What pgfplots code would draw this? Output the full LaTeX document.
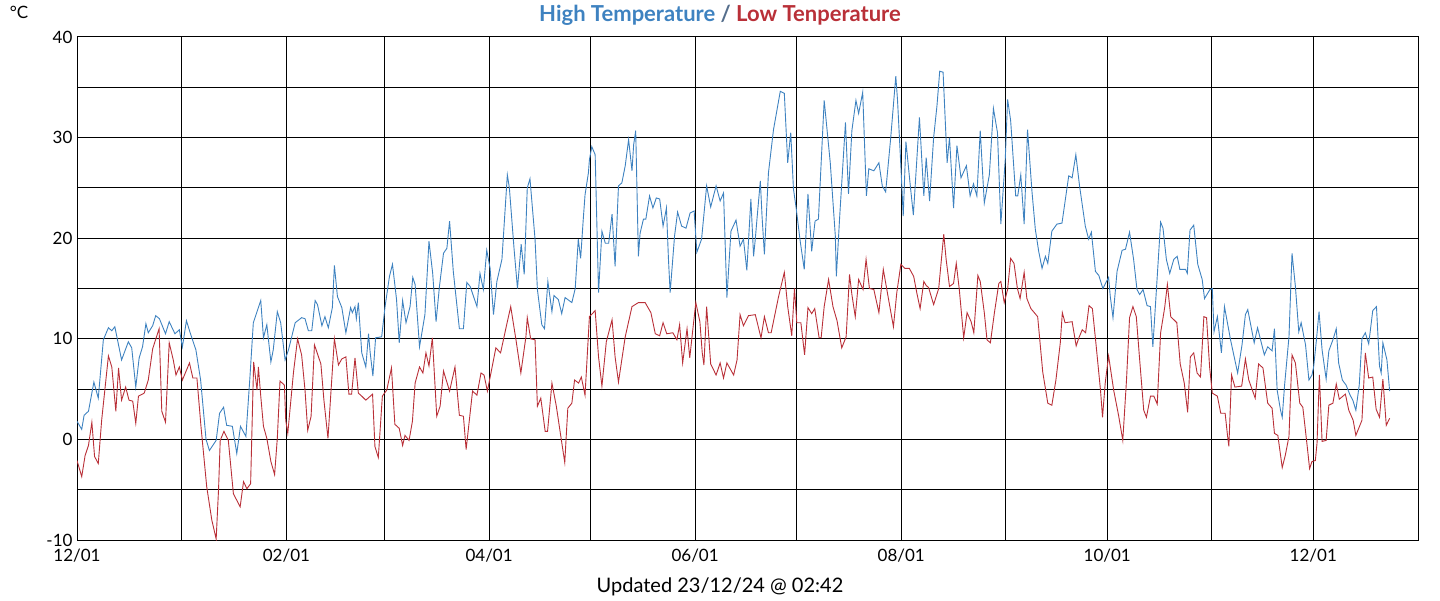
\documentclass[border=0pt]{standalone}
\usepackage{fontspec}
\setmainfont{Lato}
\usepackage{pgfplots}
\pgfplotsset{compat=1.18}
\definecolor{hiblue}{RGB}{62,130,192}
\definecolor{lored}{RGB}{185,48,56}
\definecolor{slashc}{RGB}{85,110,140}
\begin{document}
\begin{tikzpicture}[x=1pt,y=1pt]
\path[use as bounding box] (0,0) rectangle (1440,600);
\begin{axis}[
  at={(77pt,60pt)}, anchor=south west,
  scale only axis, width=1341pt, height=503pt,
  xmin=0, xmax=397, ymin=-10, ymax=40,
  xtick={0,31,62,91,122,152,183,213,244,275,305,336,366},
  xticklabels={12/01,,02/01,,04/01,,06/01,,08/01,,10/01,,12/01},
  ytick={-10,-5,0,5,10,15,20,25,30,35,40},
  yticklabels={-10,,0,,10,,20,,30,,40},
  grid=major,
  major grid style={black, line width=1pt},
  axis line style={black, line width=1pt},
  major tick length=0pt,
  tick label style={font=\fontsize{17}{20}\selectfont, text=black},
  xticklabel style={yshift=-5pt},
  yticklabel style={xshift=-1pt},
  clip=true,
]
\addplot[hiblue, line width=0.9pt] coordinates {
(0,1.8)(1.4,1.0)(2.1,2.4)(3.4,2.8)(5.0,5.7)(6.3,4.1)(7.8,9.9)(9.3,11.1)(10.3,10.8)(11.2,11.2)
(13.2,7.9)(15.2,9.7)(16.2,9.1)(17.4,5.2)(18.4,8.1)(19.4,9.2)(20.4,11.5)(21.1,10.6)(22.4,11.3)(23.3,12.3)
(24.4,12.0)(26.2,10.5)(27.3,11.7)(29.0,10.5)(30.3,10.9)(31.2,9.2)(32.4,11.8)(33.5,10.6)(35.2,8.9)(36.6,5.9)
(38.2,0.0)(39.2,-1.1)(41.2,-0.1)(42.2,2.6)(43.4,3.2)(44.3,1.4)(46.0,1.3)(47.3,-1.4)(48.4,1.3)(50.0,0.3)
(51.2,6.2)(52.2,11.6)(53.7,13.1)(54.4,13.8)(55.2,10.1)(56.2,11.4)(57.4,7.7)(58.1,8.9)(59.3,12.7)(60.3,11.6)
(61.6,7.9)(62.6,8.9)(64.6,11.6)(66.5,12.1)(67.5,12.0)(68.5,10.8)(69.5,10.8)(70.5,13.8)(71.2,13.4)(72.5,11.3)
(73.4,12.2)(74.4,11.1)(75.6,13.1)(76.2,17.3)(77.1,14.2)(78.4,13.1)(79.6,10.6)(81.0,13.1)(81.5,12.6)(82.3,13.2)
(82.7,12.0)(83.3,13.6)(84.3,8.6)(85.5,7.2)(86.3,10.5)(86.8,8.6)(87.6,6.3)(88.4,10.1)(90.2,10.2)(91.2,13.2)
(92.5,16.2)(93.4,17.4)(94.6,13.9)(95.4,9.6)(96.4,13.8)(97.4,11.6)(98.6,13.2)(99.4,16.1)(100.1,15.4)
(101.4,9.2)(103.0,12.4)(104.2,19.7)(105.3,16.5)(106.3,11.7)(107.3,15.2)(108.5,18.5)(109.5,19.0)(110.3,21.7)
(111.4,16.7)(113.2,11.0)(114.4,11.0)(115.4,15.6)(116.4,15.2)(118.4,13.2)(119.3,16.5)(120.3,14.9)(121.3,18.8)
(122.3,17.0)(123.3,12.4)(124.3,15.7)(125.8,17.9)(127.4,26.3)(128.0,25.0)(129.4,18.9)(130.4,15.0)(131.5,19.4)
(132.4,16.4)(133.3,25.0)(134.1,25.9)(135.6,19.9)(136.3,14.9)(137.6,11.4)(138.4,11.0)(139.4,15.7)(140.6,12.7)
(141.2,14.3)(142.5,13.9)(143.5,12.5)(144.5,14.1)(146.5,13.6)(147.5,15.0)(148.4,19.9)(149.1,18.0)(149.9,22.0)
(150.4,24.3)(151.4,26.5)(151.7,27.8)(152.4,29.1)(153.4,28.3)(154.4,14.6)(155.4,20.7)(156.4,19.5)(157.4,19.5)
(158.4,22.4)(159.3,17.2)(160.3,25.2)(161.3,25.5)(162.3,27.2)(163.3,29.8)(164.3,26.7)(164.8,29.3)(165.4,30.7)
(166.2,18.2)(166.7,20.5)(167.7,21.9)(168.4,21.9)(169.5,24.2)(170.5,23.0)(171.5,24.0)(172.5,23.9)(173.5,21.2)
(174.5,23.0)(175.1,17.9)(175.6,14.6)(176.9,20.2)(177.8,22.6)(179.0,21.2)(180.3,21.0)(181.5,22.5)(182.7,22.7)
(183.5,18.6)(184.9,19.9)(186.4,25.2)(187.6,23.1)(189.2,25.2)(190.4,23.7)(191.4,24.5)(192.4,14.1)(193.6,20.7)
(195.1,21.8)(196.3,19.2)(197.3,19.9)(198.3,16.8)(199.5,23.9)(200.3,18.2)(200.8,19.9)
(201.3,21.9)(202.3,25.7)(202.8,22.2)(203.5,18.4)(204.7,26.5)(206.2,30.8)(208.2,34.6)(209.4,34.4)(210.4,27.5)
(211.3,30.5)(212.1,24.9)(212.9,23.0)(214.1,19.7)(215.3,16.9)(216.4,24.4)(217.5,18.7)(218.5,21.7)(219.5,21.9)
(221.2,33.7)(223.0,27.5)(224.5,20.2)(224.8,16.2)(225.8,22.2)(227.5,31.5)(228.4,24.4)(229.4,30.7)(230.6,33.7)
(231.4,32.4)(232.6,34.5)(233.7,24.2)(234.4,26.9)(235.9,26.7)(237.4,27.5)(238.4,25.2)(239.4,24.6)(240.9,30.0)
(242.4,36.1)(242.9,33.8)(243.9,27.2)(244.6,22.2)(245.4,29.6)(246.7,25.2)(247.6,22.3)(249.4,32.0)(250.7,24.2)
(251.4,28.0)(252.4,23.7)(253.6,30.0)(254.6,33.2)(255.4,36.6)(256.4,36.5)(257.6,27.5)(258.3,30.0)(259.5,23.0)
(260.5,29.2)(261.7,26.0)(263.3,27.2)(264.4,24.2)(265.4,25.4)(266.4,24.2)(267.4,30.7)(268.6,23.5)(270.1,26.3)
(271.3,32.9)(272.5,30.5)(273.5,21.4)(274.8,27.8)(275.5,33.8)(276.4,31.7)(277.9,24.2)(278.5,24.2)(279.4,26.3)
(280.4,21.4)(281.4,30.8)(282.7,24.7)(283.7,20.9)(284.7,18.7)(285.7,17.0)(286.7,18.2)(287.4,17.5)(288.6,20.7)
(290.1,21.4)(291.6,21.5)(293.6,26.2)(294.6,26.0)(295.7,28.3)(296.8,25.2)(298.5,21.2)(299.5,19.9)(300.3,20.6)
(301.5,16.7)(302.5,16.3)(303.7,15.0)(305.4,16.1)(305.9,14.2)(306.7,12.1)(307.9,16.7)(309.4,18.8)(310.4,18.9)
(311.6,20.6)(312.8,17.9)(313.8,14.9)(314.6,14.4)(315.6,14.9)(316.8,13.3)(317.8,13.2)(318.5,9.2)(319.8,16.2)
(320.8,21.6)(321.5,21.0)(322.5,17.9)(323.5,16.5)(324.7,17.9)(325.7,18.2)(326.5,16.9)(328.2,16.9)(328.7,16.5)
(329.5,20.8)(330.6,21.3)(331.8,17.4)(333.1,15.9)(333.8,14.0)(335.4,14.9)(336.1,15.0)(336.6,10.7)(337.6,12.2)
(338.8,8.6)(339.7,13.2)(341.5,9.9)(343.6,6.6)(344.9,9.4)(345.9,12.4)(346.6,12.9)(348.5,9.6)(349.5,11.1)
(351.5,8.4)(352.5,9.2)(353.8,8.8)(354.5,11.0)(355.3,4.9)(356.3,2.9)(356.8,2.2)(357.5,5.4)(358.8,10.2)
(359.7,18.5)(360.7,15.2)(361.7,10.7)(362.4,11.6)(363.7,9.4)(364.7,5.9)(365.6,6.4)(366.1,7.2)(366.9,9.8)
(367.7,12.7)(368.6,8.9)(369.8,6.0)(370.6,8.8)(371.8,9.9)(372.8,11.0)(373.5,7.6)(374.6,5.9)(375.7,5.4)
(376.9,4.4)(377.7,3.9)(378.6,2.9)(379.6,5.4)(380.4,10.0)(381.4,10.6)(382.4,9.5)(383.6,12.8)(384.7,13.2)
(385.6,7.3)(386.1,6.6)(386.6,9.6)(387.8,7.9)(388.6,4.8)
};
\addplot[lored, line width=0.9pt] coordinates {
(0,-2.1)(1.4,-3.7)(2.4,-1.6)(3.4,-0.6)(4.4,1.7)(5.2,-1.7)(6.3,-2.4)(7.3,1.9)(9.3,8.3)(10.3,7.2)
(11.5,2.8)(12.3,7.1)(13.2,3.9)(14.4,5.2)(15.4,3.9)(16.5,3.8)(17.4,1.6)(18.2,4.3)(19.9,4.6)(21.1,5.9)
(22.4,9.0)(24.3,11.0)(25.1,2.8)(26.2,1.7)(27.3,9.6)(28.5,7.9)(29.3,6.4)(30.3,7.2)(31.2,5.9)(33.3,7.6)
(34.3,6.1)(35.5,6.1)(36.7,1.3)(38.4,-4.7)(39.9,-8.0)(41.2,-9.9)(41.9,-5.0)(42.4,-0.1)(43.5,0.8)(44.8,-0.1)
(46.3,-5.4)(48.3,-6.7)(49.3,-4.2)(50.3,-4.9)(51.4,-4.4)(52.3,7.7)(53.3,4.9)(53.7,7.2)(54.4,4.3)(55.2,1.3)
(56.2,0.1)(57.4,-2.2)(58.5,-3.5)(59.3,0.1)(60.1,5.8)(61.4,5.4)(61.8,1.9)(62.4,0.6)(64.1,6.7)(65.3,10.0)
(66.5,8.4)(67.5,4.9)(68.3,0.9)(69.3,2.3)(70.3,9.4)(72.2,7.5)(73.1,3.9)(74.3,0.1)(75.1,4.3)(76.2,10.0)
(77.4,7.4)(78.4,8.0)(79.6,8.2)(80.5,4.5)(81.3,4.5)(82.3,8.1)(83.3,4.6)(84.3,4.3)(85.5,3.9)(87.5,4.5)
(88.2,-0.7)(89.2,-1.8)(90.4,4.3)(91.7,4.9)(93.1,7.1)(94.1,1.5)(95.4,1.1)(96.4,-0.6)(97.1,0.4)(98.3,-0.1)
(99.3,1.8)(100.1,5.6)(101.4,7.2)(102.4,6.6)(103.3,8.6)(104.2,7.3)(105.2,10.1)(106.5,2.3)(107.5,3.3)(108.5,6.8)
(110.3,4.8)(111.9,7.2)(113.2,2.4)(114.4,2.3)(115.2,-1.0)(117.1,4.8)(118.4,4.4)(119.6,6.6)(120.5,6.4)(121.5,4.8)
(124.0,9.1)(125.4,8.6)(127.2,11.4)(128.4,13.2)(130.0,9.8)(131.4,6.6)(132.9,10.2)(133.3,12.1)(134.3,10.0)(135.6,9.9)
(136.3,3.3)(137.3,4.1)(138.6,0.8)(139.3,0.8)(140.6,5.6)(141.9,3.3)(143.1,0.6)(144.4,-2.3)(145.3,3.1)(146.5,3.6)
(147.3,5.9)(148.5,5.6)(149.3,6.2)(150.4,4.4)(151.7,12.2)(153.4,12.8)(154.4,8.2)(155.4,5.3)(156.7,9.7)(158.4,11.9)
(159.3,8.2)(160.3,5.7)(162.3,10.2)(164.3,13.2)(166.2,13.6)(168.2,13.6)(169.9,12.6)(171.2,10.5)(172.5,10.3)(173.5,11.6)
(174.6,10.5)(176.4,10.6)(177.6,9.9)(178.4,11.4)(179.3,7.6)(180.6,11.0)(181.4,8.1)(182.4,11.2)(183.2,13.6)(184.4,11.7)
(185.1,8.6)(185.6,7.4)(186.4,13.2)(187.6,7.5)(189.2,6.4)(190.4,7.6)(191.4,6.1)(192.4,7.6)(194.4,6.4)(195.4,7.9)
(196.3,12.4)(197.3,11.3)(198.8,12.3)(200.8,12.4)(202.5,10.1)(203.5,12.2)(204.7,10.6)(205.5,10.6)(207.7,14.2)(209.4,16.6)
(210.4,13.2)(211.6,10.3)(212.4,15.0)(213.1,11.6)(214.3,11.6)(215.4,8.4)(216.4,13.1)(217.5,12.5)(218.4,13.0)(219.7,10.1)
(220.3,10.1)(221.2,13.2)(222.5,15.9)(223.8,13.2)(225.0,11.8)(226.4,9.1)(227.7,10.2)(228.7,16.4)(229.4,14.4)(230.4,12.2)
(231.4,15.9)(232.7,14.9)(233.6,17.9)(234.6,15.0)(235.9,14.9)(237.4,12.6)(238.7,16.9)(239.9,14.6)(241.7,11.2)(242.7,14.6)
(243.9,17.4)(245.1,17.0)(246.4,17.0)(247.7,16.2)(248.6,14.6)(249.6,13.0)(250.7,15.7)(251.4,15.3)(252.1,15.1)(253.6,13.4)
(255.1,15.0)(256.6,20.4)(257.3,17.9)(258.3,15.2)(259.5,15.5)(260.3,17.5)(261.2,14.9)(262.5,10.1)(263.5,12.6)(264.7,11.7)
(265.5,10.6)(266.7,16.3)(267.4,15.7)(268.6,12.6)(269.4,9.9)(270.4,9.6)(271.6,12.6)(272.9,15.5)(273.5,15.7)(274.5,13.6)
(275.5,14.9)(276.4,18.0)(277.4,17.5)(278.4,15.0)(279.2,14.0)(280.4,16.6)(281.2,14.0)(282.4,13.0)(284.4,12.2)(285.9,6.7)
(287.4,3.6)(288.6,3.4)(289.8,5.9)(291.1,9.6)(291.7,12.6)(292.5,11.6)(294.6,11.7)(295.8,9.3)(296.6,10.1)(297.6,10.9)
(298.6,10.6)(299.6,13.3)(300.6,13.0)(301.6,9.7)(303.0,4.9)(303.6,2.2)(304.4,5.6)(305.4,8.3)(306.9,4.9)(308.4,2.3)
(309.6,-0.1)(310.7,5.9)(311.6,12.1)(312.6,13.2)(313.6,12.2)(314.6,7.9)(315.8,2.9)(316.6,2.2)(317.8,4.3)(318.8,4.3)
(319.8,3.5)(320.8,10.6)(322.0,13.1)(322.8,15.4)(323.8,12.2)(325.6,11.6)(326.6,7.5)(327.8,5.6)(328.8,2.7)(329.6,8.2)
(330.6,8.6)(331.6,6.6)(332.6,6.2)(333.6,12.2)(334.4,12.1)(335.3,7.2)(336.1,4.6)(337.6,4.3)(338.6,2.6)(339.9,2.6)
(340.6,0.4)(341.0,-0.7)(341.8,6.4)(342.8,5.2)(344.8,5.3)(345.9,8.0)(346.9,5.9)(348.8,4.1)(349.8,7.5)(351.1,7.1)
(352.5,3.6)(353.8,3.1)(354.5,0.6)(355.5,0.4)(356.8,-2.8)(357.7,-1.6)(358.8,0.3)(359.7,8.4)(360.7,7.6)(362.0,3.6)
(362.9,3.2)(364.2,-0.7)(364.9,-2.9)(365.6,-2.2)(366.6,-2.1)(367.1,-0.4)(367.8,6.4)(368.6,-0.2)(369.8,-0.1)(370.6,3.4)
(371.8,3.6)(372.8,5.5)(373.7,4.0)(375.5,4.5)(376.5,2.9)(377.8,1.9)(378.6,0.4)(380.4,1.9)(381.4,8.6)(382.4,6.1)
(383.6,6.2)(384.6,3.0)(385.6,2.2)(386.6,6.0)(387.6,1.4)(388.6,2.1)
};
\end{axis}
\node[font=\fontsize{22}{26}\selectfont\bfseries] at (720,585)
  {\textcolor{hiblue}{High Temperature} \textcolor{slashc}{/} \textcolor{lored}{Low Tenperature}};
\node[font=\fontsize{17}{20}\selectfont] at (19,588) {°C};
\node[font=\fontsize{20}{24}\selectfont] at (720,13) {Updated 23/12/24 @ 02:42};
\end{tikzpicture}
\end{document}
